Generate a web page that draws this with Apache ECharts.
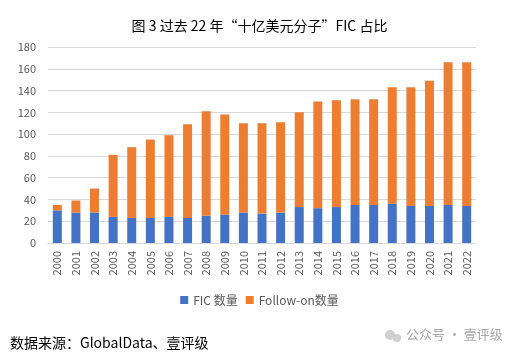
<!DOCTYPE html>
<html><head><meta charset="utf-8">
<script src="https://cdn.jsdelivr.net/npm/echarts@6/dist/echarts.min.js"></script>
<style>html,body{margin:0;padding:0;background:#fff}#c{width:519px;height:360px}</style>
</head><body><div id="c"></div>
<script>
var years = ['2000','2001','2002','2003','2004','2005','2006','2007','2008','2009','2010','2011','2012','2013','2014','2015','2016','2017','2018','2019','2020','2021','2022'];
var ficCount = [30,28,28,24,23,23,24,23,25,26,28,27,28,33,32,33,35,35,36,34,34,35,34];
var followOnCount = [5,11,22,57,65,72,75,86,96,92,82,83,83,87,98,98,97,97,107,109,115,131,132];
var yTicks = [0,20,40,60,80,100,120,140,160,180];

var chart = echarts.init(document.getElementById('c'));
var font = '"Microsoft YaHei","Noto Sans CJK SC","DejaVu Sans",sans-serif';
chart.setOption({
  animation: false,
  textStyle: {fontFamily: font},
  title: {
    text: '图 3 过去 22 年“十亿美元分子”FIC 占比',
    left: 'center', top: 14,
    textStyle: {fontSize: 14, fontWeight: 'normal', color: '#000', fontFamily: font}
  },
  legend: {
    bottom: 49, left: 'center',
    itemWidth: 8, itemHeight: 8, itemGap: 8,
    icon: 'rect',
    textStyle: {fontSize: 12, color: '#595959', fontFamily: font},
    data: ['FIC 数量', 'Follow-on数量']
  },
  grid: {left: 48, right: 43, top: 47, bottom: 117, containLabel: false},
  xAxis: {
    type: 'category', data: years,
    axisLine: {lineStyle: {color: '#d9d9d9'}},
    axisTick: {show: false},
    axisLabel: {rotate: 90, color: '#595959', fontSize: 11, margin: 8, interval: 0}
  },
  yAxis: {
    type: 'value', min: yTicks[0], max: yTicks[yTicks.length-1], interval: 20,
    axisLine: {show: false}, axisTick: {show: false},
    splitLine: {lineStyle: {color: '#d9d9d9'}},
    axisLabel: {color: '#595959', fontSize: 11, margin: 12}
  },
  series: [
    {name: 'FIC 数量', type: 'bar', stack: 't', data: ficCount, barWidth: 9, itemStyle: {color: '#4472C4'}},
    {name: 'Follow-on数量', type: 'bar', stack: 't', data: followOnCount, barWidth: 9, itemStyle: {color: '#ED7D31'}}
  ],
  graphic: [
    {type: 'text', left: 10, top: 336, style: {text: '数据来源：GlobalData、壹评级', fill: '#000', font: '14px ' + font}},
    {type: 'circle', shape: {cx: 390, cy: 335, r: 5}, style: {fill: '#d0d0d0'}},
    {type: 'circle', shape: {cx: 397, cy: 338, r: 4}, style: {fill: '#d0d0d0'}},
    {type: 'text', left: 406, top: 328, style: {text: '公众号 · 壹评级', fill: '#a8a8a8', font: '13px ' + font}}
  ]
});
</script></body></html>
